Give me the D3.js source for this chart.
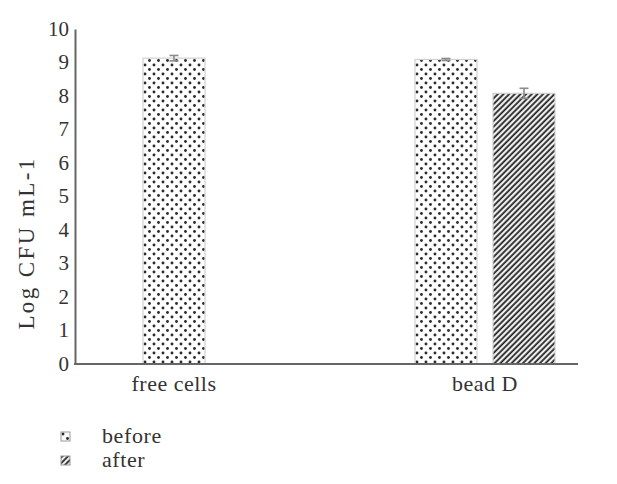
<!DOCTYPE html>
<html>
<head>
<meta charset="utf-8">
<script src="https://cdn.jsdelivr.net/npm/d3@7"></script>
<style>
  html, body { margin: 0; padding: 0; background: #fff; }
  svg { display: block; }
  text { font-family: "Liberation Serif", "Times New Roman", serif; fill: #333; }
</style>
</head>
<body>
<svg id="chart" width="617" height="484"></svg>
<script>
// Viable counts before and after treatment
const categories = ["free cells", "bead D"];
const seriesNames = ["before", "after"];
const beforeValues = [9.13, 9.09];
const afterValues = [0, 8.08];
const beforeErrors = [0.08, 0.03];
const afterErrors = [0, 0.15];
const yTicks = [0, 1, 2, 3, 4, 5, 6, 7, 8, 9, 10];
const yTitle = "Log CFU mL-1";

const svg = d3.select("#chart");
const plot = { left: 75, right: 578, top: 29, bottom: 364 };

const y = d3.scaleLinear().domain([0, 10]).range([plot.bottom, plot.top]);
const x = d3.scaleBand().domain(categories)
  .range([77, 621]).paddingInner(0.485).paddingOuter(0.2426);
const xSub = d3.scaleBand().domain(seriesNames)
  .range([0, x.bandwidth()]).paddingInner(0.205);

// fill patterns
const defs = svg.append("defs");
const dots = defs.append("pattern").attr("id", "dots")
  .attr("patternUnits", "userSpaceOnUse").attr("width", 9).attr("height", 9);
dots.append("rect").attr("width", 9).attr("height", 9).attr("fill", "#fff");
dots.append("circle").attr("cx", 2).attr("cy", 2).attr("r", 1.45).attr("fill", "#2a2a2a");
dots.append("circle").attr("cx", 6.5).attr("cy", 6.5).attr("r", 1.45).attr("fill", "#2a2a2a");

const stripes = defs.append("pattern").attr("id", "stripes")
  .attr("patternUnits", "userSpaceOnUse").attr("width", 4).attr("height", 10)
  .attr("patternTransform", "rotate(45)");
stripes.append("rect").attr("width", 4).attr("height", 10).attr("fill", "#fff");
stripes.append("line").attr("x1", 1.2).attr("x2", 1.2).attr("y1", 0).attr("y2", 10)
  .attr("stroke", "#222").attr("stroke-width", 1.9);

const fills = { before: "url(#dots)", after: "url(#stripes)" };

const rows = categories.map((c, i) => ({
  category: c,
  values: [
    { key: "before", value: beforeValues[i], err: beforeErrors[i] },
    { key: "after", value: afterValues[i], err: afterErrors[i] }
  ]
}));

// bars
const groups = svg.append("g").selectAll("g").data(rows).join("g")
  .attr("transform", d => `translate(${x(d.category)},0)`);

groups.selectAll("rect").data(d => d.values).join("rect")
  .attr("x", d => xSub(d.key))
  .attr("y", d => y(d.value))
  .attr("width", xSub.bandwidth())
  .attr("height", d => y(0) - y(d.value))
  .attr("fill", d => fills[d.key])
  .attr("stroke", "#d0d0d0")
  .attr("stroke-width", 1.2);

// error bars
const eb = groups.selectAll("g.err").data(d => d.values).join("g").attr("class", "err")
  .attr("stroke", "#8a8a8a").attr("stroke-width", 1.6);
eb.append("line")
  .attr("x1", d => xSub(d.key) + xSub.bandwidth() / 2)
  .attr("x2", d => xSub(d.key) + xSub.bandwidth() / 2)
  .attr("y1", d => y(d.value + d.err)).attr("y2", d => y(d.value - d.err));
eb.append("line")
  .attr("x1", d => xSub(d.key) + xSub.bandwidth() / 2 - 4.5)
  .attr("x2", d => xSub(d.key) + xSub.bandwidth() / 2 + 4.5)
  .attr("y1", d => y(d.value + d.err)).attr("y2", d => y(d.value + d.err));
eb.append("line")
  .attr("x1", d => xSub(d.key) + xSub.bandwidth() / 2 - 4.5)
  .attr("x2", d => xSub(d.key) + xSub.bandwidth() / 2 + 4.5)
  .attr("y1", d => y(d.value - d.err)).attr("y2", d => y(d.value - d.err));

// y axis
const yAxis = svg.append("g").attr("transform", `translate(${plot.left},0)`)
  .call(d3.axisLeft(y).tickValues(yTicks).tickSize(0).tickPadding(6).tickFormat(d3.format("d")));
yAxis.select(".domain").attr("stroke", "#666").attr("stroke-width", 2);
yAxis.selectAll("text").style("font-size", "21px").attr("fill", "#333")
  .style("font-family", "'Liberation Serif', serif").attr("dy", "0.3em");

// x axis
svg.append("line").attr("x1", plot.left - 1).attr("x2", plot.right)
  .attr("y1", y(0)).attr("y2", y(0)).attr("stroke", "#666").attr("stroke-width", 2);
const labelShift = { "free cells": -39, "bead D": 0 };
svg.append("g").selectAll("text").data(categories).join("text")
  .attr("x", d => x(d) + x.bandwidth() / 2 + labelShift[d])
  .attr("y", 391)
  .attr("text-anchor", "middle")
  .style("font-size", "22px")
  .style("letter-spacing", "0.5px")
  .text(d => d);

// y axis title
svg.append("text")
  .attr("transform", `translate(34,${243}) rotate(-90)`)
  .attr("text-anchor", "middle")
  .style("font-size", "23px")
  .style("letter-spacing", "2.4px")
  .text(yTitle);

// legend
const legend = svg.append("g").selectAll("g").data(seriesNames).join("g")
  .attr("transform", (d, i) => `translate(61,${432 + i * 24})`);
legend.append("rect").attr("width", 9).attr("height", 9)
  .attr("fill", d => fills[d]).attr("stroke", "#999").attr("stroke-width", 1);
legend.append("text").attr("x", 41).attr("y", 11)
  .style("font-size", "22px").style("letter-spacing", "0.6px").text(d => d);
</script>
</body>
</html>
